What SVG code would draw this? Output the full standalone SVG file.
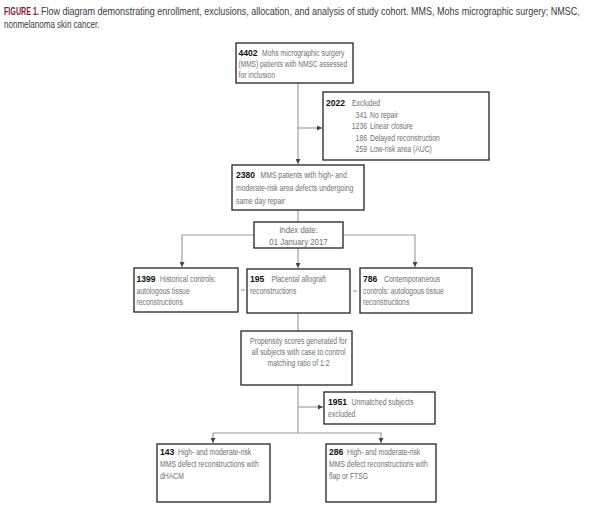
<svg xmlns="http://www.w3.org/2000/svg" width="600" height="511" viewBox="0 0 600 511">
<defs>
<style>
.box{fill:#fff;stroke:#222;stroke-width:1.3}
.ln{fill:none;stroke:#a0a0a0;stroke-width:1.2}
.t{font-family:"Liberation Sans",Arial,sans-serif;font-size:9px;fill:#707070}
.m{text-anchor:middle}
.e{text-anchor:end}
.n{font-family:"Liberation Sans",Arial,sans-serif;font-size:8.6px;font-weight:bold;fill:#111}
.cap{font-family:"Liberation Sans",Arial,sans-serif;font-size:11px;fill:#3a3a3a}
.fig{font-weight:bold;fill:#8c1c3a}
</style>
<marker id="ah" viewBox="0 0 8 8" refX="8" refY="4" markerWidth="5" markerHeight="5" orient="auto" markerUnits="userSpaceOnUse">
<path d="M0,0 L8,4 L0,8 Z" fill="#444"/>
</marker>
</defs>
<rect width="600" height="511" fill="#fff"/>
<g id="caption">
<text class="cap fig" transform="translate(4,15) scale(0.65,1)">FIGURE 1.</text>
<text class="cap" transform="translate(41,15) scale(0.82,1)">Flow diagram demonstrating enrollment, exclusions, allocation, and analysis of study cohort. MMS, Mohs micrographic surgery; NMSC,</text>
<text class="cap" transform="translate(4,28) scale(0.73,1)">nonmelanoma skin cancer.</text>
</g>
<g id="connectors">
<line class="ln" x1="298" y1="83" x2="298" y2="164" marker-end="url(#ah)"/>
<line class="ln" x1="298" y1="128" x2="322" y2="128" marker-end="url(#ah)"/>
<line class="ln" x1="298" y1="210" x2="298" y2="222"/>
<line class="ln" x1="298" y1="248" x2="298" y2="268" marker-end="url(#ah)"/>
<polyline class="ln" points="254,235 182,235 182,267" marker-end="url(#ah)"/>
<polyline class="ln" points="343,235 415,235 415,267" marker-end="url(#ah)"/>
<line class="ln" x1="241" y1="290" x2="245" y2="290"/>
<line class="ln" x1="353" y1="291" x2="357" y2="291"/>
<line class="ln" x1="298" y1="313" x2="298" y2="331"/>
<line class="ln" x1="298" y1="385" x2="298" y2="433"/>
<line class="ln" x1="298" y1="407" x2="323" y2="407" marker-end="url(#ah)"/>
<polyline class="ln" points="213,433 381,433 381,443" marker-end="url(#ah)"/>
<line class="ln" x1="213" y1="433" x2="213" y2="443" marker-end="url(#ah)"/>
</g>
<g id="n4402">
<rect class="box" x="236" y="43" width="117" height="40"/>
<text class="n" x="238.5" y="56">4402</text>
<text class="t" transform="translate(262,56) scale(0.76,1)">Mohs micrographic surgery</text>
<text class="t" transform="translate(238.5,67) scale(0.73,1)">(MMS) patients with NMSC assessed</text>
<text class="t" transform="translate(238.5,78) scale(0.76,1)">for inclusion</text>
</g>
<g id="n2022">
<rect class="box" x="323" y="92" width="166" height="68"/>
<text class="n" x="326" y="106">2022</text>
<text class="t" transform="translate(352,106) scale(0.76,1)">Excluded</text>
<text class="t e" transform="translate(367,117.5) scale(0.76,1)">341</text>
<text class="t" transform="translate(370,117.5) scale(0.76,1)">No repair</text>
<text class="t e" transform="translate(367,129) scale(0.76,1)">1236</text>
<text class="t" transform="translate(370,129) scale(0.76,1)">Linear closure</text>
<text class="t e" transform="translate(367,140.5) scale(0.76,1)">186</text>
<text class="t" transform="translate(370,140.5) scale(0.76,1)">Delayed reconstruction</text>
<text class="t e" transform="translate(367,152) scale(0.76,1)">259</text>
<text class="t" transform="translate(370,152) scale(0.76,1)">Low-risk area (AUC)</text>
</g>
<g id="n2380">
<rect class="box" x="232" y="165" width="132" height="45"/>
<text class="n" x="236" y="178">2380</text>
<text class="t" transform="translate(260.5,178) scale(0.76,1)">MMS patients with high- and</text>
<text class="t" transform="translate(236,191) scale(0.76,1)">moderate-risk area defects undergoing</text>
<text class="t" transform="translate(236,204) scale(0.76,1)">same day repair</text>
</g>
<g id="index">
<rect class="box" x="254" y="222" width="89" height="26"/>
<text class="t m" transform="translate(298.5,233) scale(0.8,1)" style="font-size:9.8px">Index date:</text>
<text class="t m" transform="translate(298.5,245) scale(0.8,1)" style="font-size:9.8px">01 January 2017</text>
</g>
<g id="n1399">
<rect class="box" x="134" y="268" width="104" height="44"/>
<text class="n" x="136.5" y="282">1399</text>
<text class="t" transform="translate(160,282) scale(0.76,1)">Historical controls:</text>
<text class="t" transform="translate(136.5,293.5) scale(0.76,1)">autologous tissue</text>
<text class="t" transform="translate(136.5,305) scale(0.76,1)">reconstructions</text>
</g>
<g id="n195">
<rect class="box" x="247" y="269" width="103" height="44"/>
<text class="n" x="250" y="282">195</text>
<text class="t" transform="translate(271.5,282) scale(0.76,1)">Placental allograft</text>
<text class="t" transform="translate(250,293.5) scale(0.76,1)">reconstructions</text>
</g>
<g id="n786">
<rect class="box" x="360" y="268" width="112" height="45"/>
<text class="n" x="363" y="282">786</text>
<text class="t" transform="translate(384,282) scale(0.76,1)">Contemporaneous</text>
<text class="t" transform="translate(363,293.5) scale(0.76,1)">controls: autologous tissue</text>
<text class="t" transform="translate(363,305) scale(0.76,1)">reconstructions</text>
</g>
<g id="propensity">
<rect class="box" x="241" y="331" width="111" height="54"/>
<text class="t m" transform="translate(298.5,344) scale(0.76,1)">Propensity scores generated for</text>
<text class="t m" transform="translate(298.5,355) scale(0.76,1)">all subjects with case to control</text>
<text class="t m" transform="translate(298.5,366) scale(0.76,1)">matching ratio of 1:2</text>
</g>
<g id="n1951">
<rect class="box" x="324" y="392" width="111" height="32"/>
<text class="n" x="328" y="405">1951</text>
<text class="t" transform="translate(351.5,405) scale(0.76,1)">Unmatched subjects</text>
<text class="t" transform="translate(328,417) scale(0.76,1)">excluded</text>
</g>
<g id="n143">
<rect class="box" x="157" y="444" width="113" height="58"/>
<text class="n" x="160" y="455">143</text>
<text class="t" transform="translate(178,455) scale(0.76,1)">High- and moderate-risk</text>
<text class="t" transform="translate(160,467) scale(0.76,1)">MMS defect reconstructions with</text>
<text class="t" transform="translate(160,479) scale(0.76,1)">dHACM</text>
</g>
<g id="n286">
<rect class="box" x="326" y="444" width="110" height="58"/>
<text class="n" x="329" y="455">286</text>
<text class="t" transform="translate(347,455) scale(0.76,1)">High- and moderate-risk</text>
<text class="t" transform="translate(329,467) scale(0.76,1)">MMS defect reconstructions with</text>
<text class="t" transform="translate(329,479) scale(0.76,1)">flap or FTSG</text>
</g>
</svg>
